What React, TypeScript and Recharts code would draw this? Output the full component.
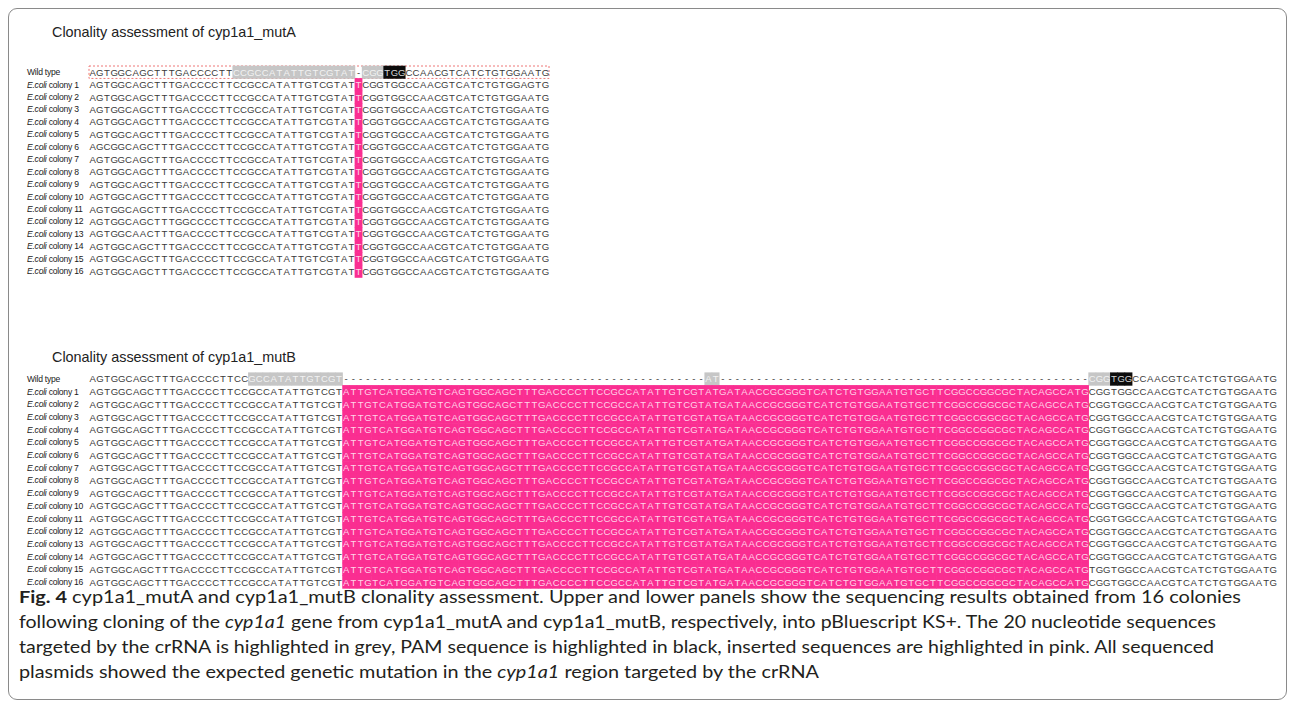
import { ReferenceArea, Scatter, ScatterChart, XAxis, YAxis } from "recharts";

// row labels (shared by both panels)
const rowLabels = [
  "Wild type",
  "colony 1",
  "colony 2",
  "colony 3",
  "colony 4",
  "colony 5",
  "colony 6",
  "colony 7",
  "colony 8",
  "colony 9",
  "colony 10",
  "colony 11",
  "colony 12",
  "colony 13",
  "colony 14",
  "colony 15",
  "colony 16",
];
const rowIndex = rowLabels.map((_, i) => i);

// ---- cyp1a1_mutA ----
const wildTypeA = "AGTGGCAGCTTTGACCCCTTCCGCCATATTGTCGTAT-CGGTGGCCAACGTCATCTGTGGAATG";
const coloniesA = [
  "AGTGGCAGCTTTGACCCCTTCCGCCATATTGTCGTATTCGGTGGCCAACGTCATCTGTGGAGTG",
  "AGTGGCAGCTTTGACCCCTTCCGCCATATTGTCGTATTCGGTGGCCAACGTCATCTGTGGAATG",
  "AGTGGCAGCTTTGACCCCTTCCGCCATATTGTCGTATTCGGTGGCCAACGTCATCTGTGGAATG",
  "AGTGGCAGCTTTGACCCCTTCCGCCATATTGTCGTATTCGGTGGCCAACGTCATCTGTGGAATG",
  "AGTGGCAGCTTTGACCCCTTCCGCCATATTGTCGTATTCGGTGGCCAACGTCATCTGTGGAATG",
  "AGCGGCAGCTTTGACCCCTTCCGCCATATTGTCGTATTCGGTGGCCAACGTCATCTGTGGAATG",
  "AGTGGCAGCTTTGACCCCTTCCGCCATATTGTCGTATTCGGTGGCCAACGTCATCTGTGGAATG",
  "AGTGGCAGCTTTGACCCCTTCCGCCATATTGTCGTATTCGGTGGCCAACGTCATCTGTGGAATG",
  "AGTGGCAGCTTTGACCCCTTCCGCCATATTGTCGTATTCGGTGGCCAACGTCATCTGTGGAATG",
  "AGTGGCAGCTTTGACCCCTTCCGCCATATTGTCGTATTCGGTGGCCAACGTCATCTGTGGAATG",
  "AGTGGCAGCTTTGACCCCTTCCGCCATATTGTCGTATTCGGTGGCCAACGTCATCTGTGGAATG",
  "AGTGGCAGCTTTGGCCCCTTCCGCCATATTGTCGTATTCGGTGGCCAACGTCATCTGTGGAATG",
  "AGTGGCAACTTTGACCCCTTCCGCCATATTGTCGTATTCGGTGGCCAACGTCATCTGTGGAATG",
  "AGTGGCAGCTTTGACCCCTTCCGCCATATTGTCGTATTCGGTGGCCAACGTCATCTGTGGAATG",
  "AGTGGCAGCTTTGACCCCTTCCGCCATATTGTCGTATTCGGTGGCCAACGTCATCTGTGGAATG",
  "AGTGGCAGCTTTGACCCCTTCCGCCATATTGTCGTATTCGGTGGCCAACGTCATCTGTGGAATG",
];
const crRnaA: [number, number][] = [[20, 36], [38, 40]];
const pamA: [number, number][] = [[41, 43]];
const insertA: [number, number][] = [[37, 37]];

// ---- cyp1a1_mutB ----
const wildTypeB =
  "AGTGGCAGCTTTGACCCCTTCCGCCATATTGTCGT" +
  "--------------------------------------------------" +
  "AT" +
  "---------------------------------------------------" +
  "CGGTGGCCAACGTCATCTGTGGAATG";
const flank5B = "AGTGGCAGCTTTGACCCCTTCCGCCATATTGTCGT";
const insertSeqB =
  "ATTGTCATGGATGTCAGTGGCAGCTTTGACCCCTTCCGCCATATTGTCGTATGATAACCGCGGGTCATCTGTGGAATGTGCTTCGGCCGGCGCTACAGCCATG";
const flank3B = "CGGTGGCCAACGTCATCTGTGGAATG";
const flank3B15 = "TGGTGGCCAACGTCATCTGTGGAATG";
const coloniesB = [
  flank5B + insertSeqB + flank3B,
  flank5B + insertSeqB + flank3B,
  flank5B + insertSeqB + flank3B,
  flank5B + insertSeqB + flank3B,
  flank5B + insertSeqB + flank3B,
  flank5B + insertSeqB + flank3B,
  flank5B + insertSeqB + flank3B,
  flank5B + insertSeqB + flank3B,
  flank5B + insertSeqB + flank3B,
  flank5B + insertSeqB + flank3B,
  flank5B + insertSeqB + flank3B,
  flank5B + insertSeqB + flank3B,
  flank5B + insertSeqB + flank3B,
  flank5B + insertSeqB + flank3B,
  flank5B + insertSeqB + flank3B15,
  flank5B + insertSeqB + flank3B,
];
const crRnaB: [number, number][] = [[22, 34], [85, 86], [138, 140]];
const pamB: [number, number][] = [[141, 143]];
const insertB: [number, number][] = [[35, 137]];

type Kind = "plain" | "crRna" | "pam" | "insert";
type Cell = { x: number; y: number; ch: string; kind: Kind };

const inRanges = (i: number, ranges: [number, number][]) => ranges.some(([a, b]) => i >= a && i <= b);

function buildCells(
  wild: string,
  colonies: string[],
  crRna: [number, number][],
  pam: [number, number][],
  insert: [number, number][]
): Cell[] {
  const cells: Cell[] = [];
  wild.split("").forEach((ch, i) => {
    const kind: Kind = inRanges(i, pam) ? "pam" : inRanges(i, crRna) ? "crRna" : "plain";
    cells.push({ x: i, y: 0, ch, kind });
  });
  colonies.forEach((seq, r) => {
    seq.split("").forEach((ch, i) => {
      cells.push({ x: i, y: r + 1, ch, kind: inRanges(i, insert) ? "insert" : "plain" });
    });
  });
  return cells;
}

const styles: Record<Kind, { bg: string | null; fg: string }> = {
  plain: { bg: null, fg: "#3a3a3a" },
  crRna: { bg: "#c6c6c6", fg: "#f2f2f2" },
  pam: { bg: "#0c0c0c", fg: "#d6d6d6" },
  insert: { bg: "#fa2e91", fg: "#ffd3e8" },
};

function makeCellShape(cw: number, rh: number) {
  return (props: any) => {
    const { cx, cy, payload } = props;
    const s = styles[payload.kind as Kind];
    return (
      <g>
        {s.bg ? <rect x={cx - cw / 2 - 0.3} y={cy - rh / 2 - 0.3} width={cw + 0.6} height={rh + 0.6} fill={s.bg} /> : null}
        <text
          x={cx}
          y={cy}
          dy="0.36em"
          textAnchor="middle"
          fontSize={9.6}
          fontFamily="'Liberation Sans', Arial, sans-serif"
          fill={s.fg}
        >
          {payload.ch}
        </text>
      </g>
    );
  };
}

function RowTick(props: any) {
  const { y, payload } = props;
  const i = payload.value as number;
  return (
    <text
      x={19}
      y={y}
      dy="0.34em"
      fontSize={8.6}
      fontFamily="'Liberation Sans', Arial, sans-serif"
      fill="#1a1a1a"
      letterSpacing={-0.25}
    >
      {i === 0 ? (
        rowLabels[0]
      ) : (
        <>
          <tspan fontStyle="italic">E.coli</tspan> {rowLabels[i]}
        </>
      )}
    </text>
  );
}

function AlignmentPanel({
  cells,
  cols,
  plotWidth,
  plotHeight,
  marginTop,
  rightMargin,
  wildBox,
}: {
  cells: Cell[];
  cols: number;
  plotWidth: number;
  plotHeight: number;
  marginTop: number;
  rightMargin: number;
  wildBox?: boolean;
}) {
  const cw = plotWidth / cols;
  const rh = plotHeight / rowLabels.length;
  const labelWidth = 81;
  return (
    <ScatterChart
      width={labelWidth + plotWidth + rightMargin}
      height={marginTop + plotHeight + 4}
      margin={{ top: marginTop, right: rightMargin, bottom: 4, left: 0 }}
    >
      <XAxis type="number" dataKey="x" domain={[-0.5, cols - 0.5]} hide />
      <YAxis
        type="number"
        dataKey="y"
        domain={[-0.5, rowLabels.length - 0.5]}
        reversed
        ticks={rowIndex}
        interval={0}
        width={labelWidth}
        axisLine={false}
        tickLine={false}
        tick={<RowTick />}
      />
      <Scatter data={cells} shape={makeCellShape(cw, rh)} isAnimationActive={false} />
      {wildBox ? (
        <ReferenceArea
          x1={-0.5}
          x2={cols - 0.5}
          y1={-0.5}
          y2={0.5}
          fill="none"
          stroke="#ee7777"
          strokeDasharray="2 2"
          strokeWidth={1}
        />
      ) : null}
    </ScatterChart>
  );
}

const cellsA = buildCells(wildTypeA, coloniesA, crRnaA, pamA, insertA);
const cellsB = buildCells(wildTypeB, coloniesB, crRnaB, pamB, insertB);

const captionFont = "Lato, 'Open Sans', sans-serif";

export default function App() {
  return (
    <div style={{ position: "relative", width: 1279, height: 692, fontFamily: "'Liberation Sans', Arial, sans-serif" }}>
      <div
        style={{
          position: "absolute",
          inset: 0,
          border: "1px solid #8a8a8a",
          borderRadius: 9,
          pointerEvents: "none",
        }}
      />
      <div style={{ position: "absolute", left: 44, top: 16, fontSize: 14.4, lineHeight: "16px", color: "#222" }}>
        Clonality assessment of cyp1a1_mutA
      </div>
      <div style={{ position: "absolute", left: 0, top: 52 }}>
        <AlignmentPanel
          cells={cellsA}
          cols={wildTypeA.length}
          plotWidth={460}
          plotHeight={211.5}
          marginTop={6}
          rightMargin={10}
          wildBox
        />
      </div>
      <div style={{ position: "absolute", left: 44, top: 341, fontSize: 14.4, lineHeight: "16px", color: "#222" }}>
        Clonality assessment of cyp1a1_mutB
      </div>
      <div style={{ position: "absolute", left: 0, top: 358 }}>
        <AlignmentPanel
          cells={cellsB}
          cols={wildTypeB.length}
          plotWidth={1188}
          plotHeight={215.7}
          marginTop={6.7}
          rightMargin={8}
        />
      </div>
      <svg style={{ position: "absolute", left: 0, top: 580 }} width={1279} height={110}>
        <g fontFamily={captionFont} fontSize={17.5} fill="#231f20">
          <text x={11} y={15} textLength={1222} lengthAdjust="spacingAndGlyphs">
            <tspan fontWeight="bold">Fig. 4</tspan>
            {"  cyp1a1_mutA and cyp1a1_mutB clonality assessment. Upper and lower panels show the sequencing results obtained from 16 colonies"}
          </text>
          <text x={11} y={40} textLength={1197} lengthAdjust="spacingAndGlyphs">
            {"following cloning of the "}
            <tspan fontStyle="italic">cyp1a1</tspan>
            {" gene from cyp1a1_mutA and cyp1a1_mutB, respectively, into pBluescript KS+. The 20 nucleotide sequences"}
          </text>
          <text x={11} y={65} textLength={1195} lengthAdjust="spacingAndGlyphs">
            targeted by the crRNA is highlighted in grey, PAM sequence is highlighted in black, inserted sequences are highlighted in pink. All sequenced
          </text>
          <text x={11} y={90} textLength={800} lengthAdjust="spacingAndGlyphs">
            {"plasmids showed the expected genetic mutation in the "}
            <tspan fontStyle="italic">cyp1a1</tspan>
            {" region targeted by the crRNA"}
          </text>
        </g>
      </svg>
    </div>
  );
}
